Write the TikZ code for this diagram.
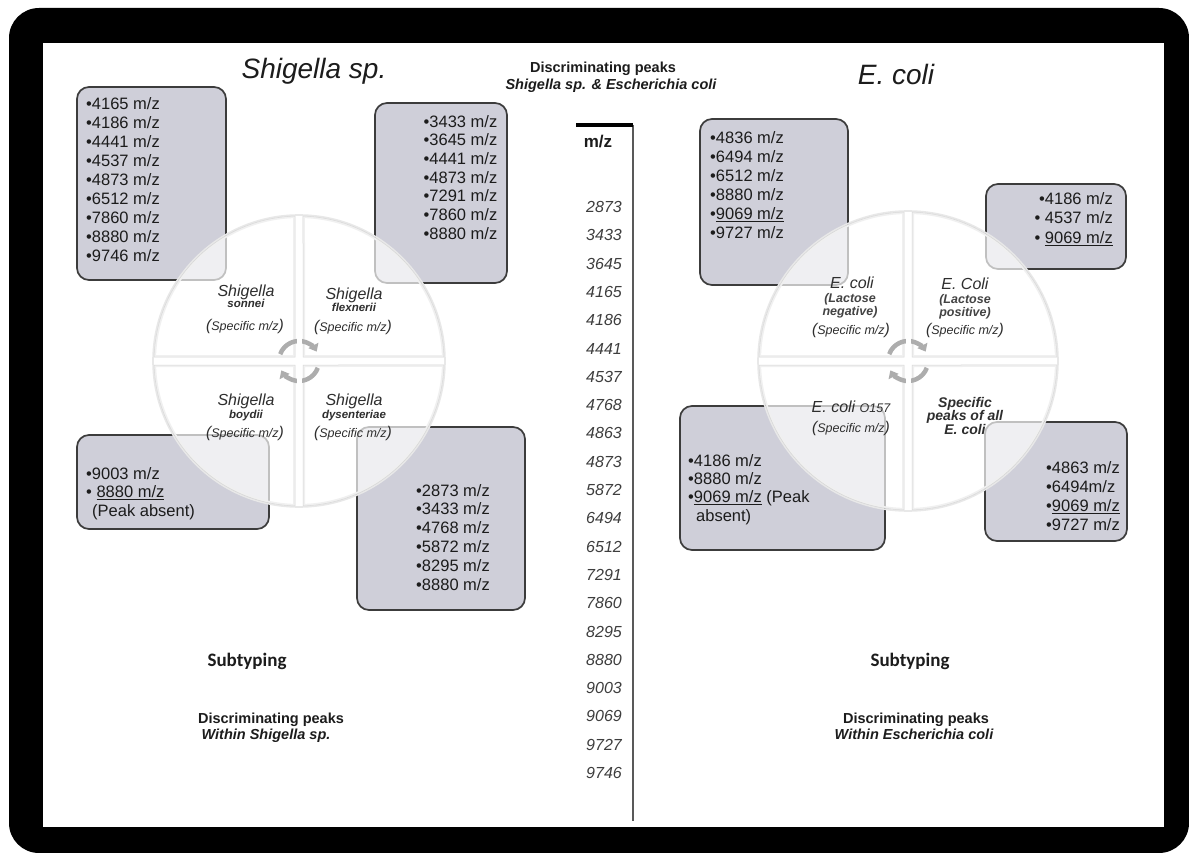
\documentclass[tikz,border=0pt]{standalone}
\usepackage{fontspec}
\setmainfont{Liberation Sans}
\newfontfamily\subtypefont{Carlito}
\usetikzlibrary{arrows.meta}

\definecolor{boxfill}{HTML}{CFCFD9}
\definecolor{boxline}{HTML}{3C3C3C}
\definecolor{ink}{HTML}{1C1C1C}
\definecolor{wheelink}{HTML}{2E2E2E}
\definecolor{ringgray}{HTML}{ADADAD}

\newcommand{\fsz}[2]{\fontsize{#1}{#2}\selectfont}
\newcommand{\specmz}{{\fsz{15.5}{15}(}Specific m/z{\fsz{15.5}{15})}}

% cycle wheel: centre x, centre y, radius, name of the centre coordinate
\newcommand{\cyclewheel}[4]{%
  \pgfmathsetmacro\wgap{4}%
  \pgfmathsetmacro\wdel{asin(\wgap/#3)}%
  \pgfmathsetmacro\wlen{#3*cos(\wdel)}%
  \coordinate (#4) at (#1,#2);
  \draw[wheelrim] (#4) circle[radius=#3+1];
  \foreach \rot in {0,90,180,270}{%
    \begin{scope}[rotate around={\rot:(#4)}]
      \path[quadfill] (#1-\wgap,#2-\wgap) -- (#1-\wgap,#2-\wlen)
        arc[start angle=270-\wdel, end angle=180+\wdel, radius=#3] -- cycle;
      \begin{scope}
        \clip (#1-\wgap,#2-\wgap) -- (#1-\wgap,#2-\wlen)
          arc[start angle=270-\wdel, end angle=180+\wdel, radius=#3] -- cycle;
        \draw[quadbevel] (#1-\wgap,#2-\wgap) -- (#1-\wgap,#2-\wlen)
          arc[start angle=270-\wdel, end angle=180+\wdel, radius=#3] -- cycle;
      \end{scope}
      \draw[quadline] (#1-\wgap,#2-\wgap) -- (#1-\wgap,#2-\wlen)
        arc[start angle=270-\wdel, end angle=180+\wdel, radius=#3] -- cycle;
    \end{scope}}
  \draw[ringarrow] (#4) ++(200:20) arc[start angle=200, end angle=332, radius=20];
  \draw[ringarrow] (#4) ++(20:20) arc[start angle=20, end angle=152, radius=20];
  \fill[white] (#1-2.5,#2-27) rectangle (#1+2.5,#2-13);
  \fill[white] (#1-2.5,#2+13) rectangle (#1+2.5,#2+27);
}

\begin{document}
\begin{tikzpicture}[x=1pt,y=-1pt,
  outerframe/.style={fill=black, rounded corners=30pt},
  peakbox/.style={draw=boxline, line width=1.7pt, fill=boxfill, rounded corners=12pt,
    inner sep=0pt, outer sep=0pt, anchor=north west},
  peaks/.style={font=\fsz{16.5}{19}, text=ink, inner sep=0pt},
  mzval/.style={font=\fsz{16}{16}\itshape, text=ink!85, inner sep=0pt, anchor=east},
  species/.style={font=\fsz{16}{16}\itshape, text=wheelink, inner sep=0pt, anchor=base},
  strain/.style={font=\fsz{11.5}{12}\bfseries\itshape, text=wheelink, inner sep=0pt, anchor=base},
  lactose/.style={font=\fsz{12.5}{13}\bfseries\itshape, text=wheelink!90, inner sep=0pt, anchor=base},
  spec/.style={font=\fsz{12.5}{13}\itshape, text=wheelink, inner sep=0pt, anchor=base},
  allcoli/.style={font=\fsz{14}{14}\bfseries\itshape, text=wheelink, inner sep=0pt, anchor=base},
  heading/.style={font=\fsz{14.5}{15}\bfseries, text=ink, inner sep=0pt, anchor=base},
  subheading/.style={font=\fsz{14.5}{15}\bfseries\itshape, text=ink, inner sep=0pt, anchor=base},
  title/.style={font=\fsz{28}{28}\itshape, text=ink, inner sep=0pt, anchor=base},
  subtype/.style={font=\subtypefont\fsz{19}{19}\bfseries, text=ink, inner sep=0pt, anchor=base},
  wheelrim/.style={draw=black!9, line width=1.6pt},
  quadfill/.style={fill=white, fill opacity=0.68},
  quadbevel/.style={draw=black!6, line width=4pt},
  quadline/.style={draw=black!16, line width=0.5pt},
  ringarrow/.style={draw=ringgray, line width=4.5pt, -{Triangle[length=7pt,width=11pt]}}
]
\useasboundingbox (0,0) rectangle (1189,853);

% frame and page
\fill[outerframe] (9,8) rectangle (1189,853);
\fill[white] (43,43) rectangle (1164,827);

% peak boxes
\node[peakbox, minimum width=149pt, minimum height=193pt] (boxA) at (77,87) {};
\node[peakbox, minimum width=132pt, minimum height=180pt] (boxB) at (375,103) {};
\node[peakbox, minimum width=192pt, minimum height=94pt]  (boxC) at (77,435) {};
\node[peakbox, minimum width=168pt, minimum height=183pt] (boxD) at (357,427) {};
\node[peakbox, minimum width=148pt, minimum height=166pt] (boxE) at (700,119) {};
\node[peakbox, minimum width=140pt, minimum height=85pt]  (boxF) at (986,184) {};
\node[peakbox, minimum width=205pt, minimum height=144pt] (boxG) at (680,406) {};
\node[peakbox, minimum width=142pt, minimum height=119pt] (boxH) at (985,422) {};

% the two subtyping wheels
\cyclewheel{299}{361}{145}{shigwheel}
\cyclewheel{908}{361}{149}{coliwheel}

% box contents
\node[peaks, align=left, anchor=north west] (txtA) at (86,97)
  {•4165 m/z\\•4186 m/z\\•4441 m/z\\•4537 m/z\\•4873 m/z\\•6512 m/z\\•7860 m/z\\•8880 m/z\\•9746 m/z};
\node[peaks, font=\fsz{16.5}{18.7}, align=right, anchor=north east] (txtB) at (497.5,115)
  {•3433 m/z\\•3645 m/z\\•4441 m/z\\•4873 m/z\\•7291 m/z\\•7860 m/z\\•8880 m/z};
\node[peaks, font=\fsz{16.5}{18.5}, align=left, anchor=north west] (txtC) at (86,467)
  {•9003 m/z\\• \underline{8880 m/z}\\\hspace*{6pt}(Peak absent)};
\node[peaks, font=\fsz{16.5}{18.8}, align=left, anchor=north west] (txtD) at (416,484)
  {•2873 m/z\\•3433 m/z\\•4768 m/z\\•5872 m/z\\•8295 m/z\\•8880 m/z};
\node[peaks, align=left, anchor=north west] (txtE) at (710,131)
  {•4836 m/z\\•6494 m/z\\•6512 m/z\\•8880 m/z\\•\underline{9069 m/z}\\•9727 m/z};
\node[peaks, font=\fsz{16.5}{19.5}, align=right, anchor=north east] (txtF) at (1113,192)
  {•4186 m/z\\• 4537 m/z\\• \underline{9069 m/z}};
\node[peaks, font=\fsz{16.5}{18.3}, align=left, anchor=north west] (txtG) at (688,454)
  {•4186 m/z\\•8880 m/z\\•\underline{9069 m/z} (Peak\\\hspace*{8pt}absent)};
\node[peaks, align=left, anchor=north west] (txtH) at (1046,461)
  {•4863 m/z\\•6494m/z\\•\underline{9069 m/z}\\•9727 m/z};

% Shigella wheel labels
\node[species] (sonA) at (246,296) {Shigella};
\node[strain]  (sonB) at (246,307.5) {sonnei};
\node[spec]    (sonC) at (245,330) {\specmz};
\node[species] (flxA) at (354,299) {Shigella};
\node[strain]  (flxB) at (354,311) {flexnerii};
\node[spec]    (flxC) at (353,331) {\specmz};
\node[species] (boyA) at (246,405) {Shigella};
\node[strain]  (boyB) at (246,418) {boydii};
\node[spec]    (boyC) at (245,437) {\specmz};
\node[species] (dysA) at (354,405) {Shigella};
\node[strain]  (dysB) at (354,418) {dysenteriae};
\node[spec]    (dysC) at (353,437) {\specmz};

% E. coli wheel labels
\node[species] (negA) at (852,288) {E. coli};
\node[lactose] (negB) at (850,302) {(Lactose};
\node[lactose] (negC) at (850,315) {negative)};
\node[spec]    (negD) at (851,334) {\specmz};
\node[species] (posA) at (965,289) {E. Coli};
\node[lactose] (posB) at (965,303) {(Lactose};
\node[lactose] (posC) at (965,316) {positive)};
\node[spec]    (posD) at (965,334) {\specmz};
\node[species] (ohA)  at (851,412) {E. coli {\fsz{12.5}{13}O157}};
\node[spec]    (ohB)  at (851,432) {\specmz};
\node[allcoli] (allA) at (965,407) {Specific};
\node[allcoli] (allB) at (965,420) {peaks of all};
\node[allcoli] (allC) at (965,434) {E. coli};

% m/z column
\coordinate (axtop) at (633,125);
\coordinate (axbot) at (633,821);
\coordinate (bartip) at (576,125);
\draw[black!65, line width=2pt] (axtop) -- (axbot);
\draw[black, line width=4pt] (bartip) -- (axtop);
\node[font=\fsz{17}{17}\bfseries, text=ink, inner sep=0pt, anchor=base] (mzhead) at (598,148) {m/z};
\foreach \v [count=\i] in {2873,3433,3645,4165,4186,4441,4537,4768,4863,4873,5872,
                           6494,6512,7291,7860,8295,8880,9003,9069,9727,9746}
  \node[mzval] (mz\i) at (622,{207+28.3*(\i-1)}) {\v};

% titles and captions
\node[title] (shigtitle) at (314,79) {Shigella sp.};
\node[title] (colititle) at (896,85) {E. coli};
\node[heading]    (topA) at (603,73) {Discriminating peaks};
\node[subheading] (topB) at (611,90) {Shigella sp. \& Escherichia coli};
\node[subtype] (subL) at (247,666) {Subtyping};
\node[subtype] (subR) at (910,666) {Subtyping};
\node[heading]    (botLA) at (271,723) {Discriminating peaks};
\node[subheading] (botLB) at (266,739) {Within Shigella sp.};
\node[heading]    (botRA) at (916,723) {Discriminating peaks};
\node[subheading] (botRB) at (914,739) {Within Escherichia coli};
\end{tikzpicture}
\end{document}
